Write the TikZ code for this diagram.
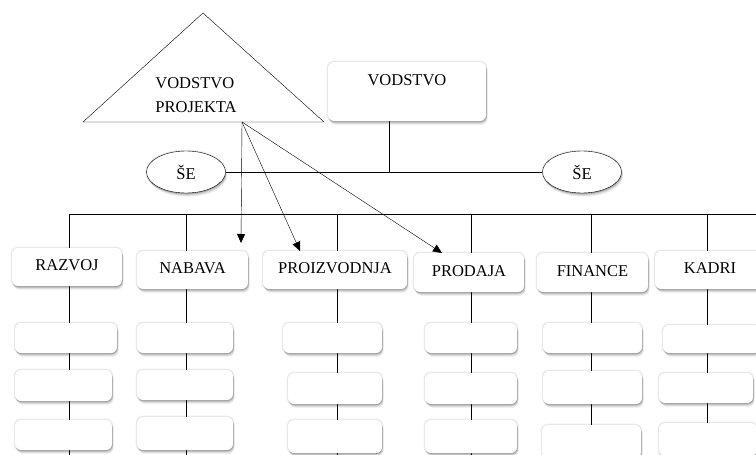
\documentclass[tikz,border=0pt]{standalone}
\usepackage{fontspec}
\setmainfont{Liberation Serif}
\usetikzlibrary{arrows.meta,backgrounds,shapes.geometric}

\begin{document}
\begin{tikzpicture}[x=1pt,y=-1pt,
  line width=1pt,
  lbl/.style={font=\fontsize{16.5}{24}\selectfont, text=black},
  % soft shadow built from a faint halo and a few offset translucent copies of the shape
  soft/.style={
    preaction={draw=black, line width=3pt, draw opacity=0.05, fill=none},
    preaction={draw=black, line width=1.5pt, draw opacity=0.06, fill=none},
    preaction={fill=black, fill opacity=0.10, draw=none, transform canvas={shift={(0.3pt,-0.8pt)}}},
    preaction={fill=black, fill opacity=0.10, draw=none, transform canvas={shift={(0.8pt,-1.8pt)}}},
    preaction={fill=black, fill opacity=0.08, draw=none, transform canvas={shift={(1.2pt,-2.8pt)}}},
    preaction={fill=black, fill opacity=0.06, draw=none, transform canvas={shift={(1.6pt,-3.8pt)}}}},
  card/.style={rectangle, rounded corners=6pt, fill=white, draw=none, inner sep=0pt, soft},
  head/.style={card, lbl, text height=11pt, text depth=4pt},
  oval/.style={ellipse, draw=black, fill=white, inner sep=0pt, lbl,
    minimum width=79pt, minimum height=42pt, soft},
  link/.style={draw=black},
  arr/.style={draw=black, -{Triangle[length=9pt,width=8pt]}}
]
\begin{pgfonlayer}{background}
  \fill[white] (0,0) rectangle (756,455);
\end{pgfonlayer}
\useasboundingbox (0,0) rectangle (756,455);

% project leadership triangle
\draw[black, fill=white, line join=miter] (83,122) -- (324,122) -- (203,13) -- cycle;
\node[lbl, align=left] (tri) at (196,95) {VODSTVO\\PROJEKTA};
\coordinate (tb) at (242,122);

% top management
\node[card, minimum width=158pt, minimum height=59pt] (vod) at (407,91.5) {};
\node[lbl] (vodt) at (407,80) {VODSTVO};

% staff units
\node[oval] (se1) at (186,172) {ŠE};
\node[oval] (se2) at (582,172) {ŠE};

% department heads
\node[head, minimum width=110pt, minimum height=38pt] (razvoj)  at (67,267)    {RAZVOJ};
\node[head, minimum width=111pt, minimum height=38pt] (nabava)  at (192.5,270) {NABAVA};
\node[head, minimum width=144pt, minimum height=38pt] (proizv)  at (335,270)   {PROIZVODNJA};
\node[head, minimum width=110pt, minimum height=39pt] (prodaja) at (469,272.5) {PRODAJA};
\node[head, minimum width=111pt, minimum height=39pt] (finance) at (592.5,272.5){FINANCE};
\node[head, minimum width=110pt, minimum height=38pt] (kadri)   at (710,270)   {KADRI};

% sub-units, column by column
\node[card, minimum width=102pt, minimum height=30pt] (r2) at (66,338) {};
\node[card, minimum width=97pt,  minimum height=31pt] (r3) at (63.5,385.5) {};
\node[card, minimum width=97pt,  minimum height=30pt] (r4) at (63.5,435) {};

\node[card, minimum width=96pt, minimum height=30pt] (n2) at (185,338) {};
\node[card, minimum width=96pt, minimum height=30pt] (n3) at (185,385) {};
\node[card, minimum width=96pt, minimum height=33pt] (n4) at (185,433.5) {};

\node[card, minimum width=99pt, minimum height=30pt] (p2) at (332.5,338) {};
\node[card, minimum width=94pt, minimum height=31pt] (p3) at (335,388.5) {};
\node[card, minimum width=94pt, minimum height=33pt] (p4) at (335,436.5) {};

\node[card, minimum width=92pt, minimum height=30pt] (s2) at (471,338) {};
\node[card, minimum width=92pt, minimum height=31pt] (s3) at (471,388.5) {};
\node[card, minimum width=92pt, minimum height=33pt] (s4) at (471,436.5) {};

\node[card, minimum width=99pt, minimum height=30pt] (f2) at (592.5,338) {};
\node[card, minimum width=99pt, minimum height=33pt] (f3) at (592.5,387.5) {};
\node[card, minimum width=99pt, minimum height=33pt] (f4) at (591.5,441.5) {};

\node[card, minimum width=97pt, minimum height=28pt] (k2) at (711.5,339) {};
\node[card, minimum width=94pt, minimum height=30pt] (k3) at (706,388) {};
\node[card, minimum width=98pt, minimum height=33pt] (k4) at (708,439.5) {};

% bus and column lines behind the cards
\coordinate (busL) at (69,214);
\coordinate (busR) at (756,214);
\coordinate (vj) at (389,172);
\foreach \n/\x in {1/69,2/186,3/337,4/471,5/591,6/707}{
  \coordinate (c\n) at (\x,214);
  \coordinate (b\n) at (\x,455);
}
\begin{pgfonlayer}{background}
  \draw[link] (busL) -- (busR);
  \foreach \n in {1,...,6}{ \draw[link] (c\n) -- (b\n); }
  \draw[link] (vj |- vod.south) -- (vj);
  \draw[link] (se1.east) -- (se2.west);
\end{pgfonlayer}

% arrows from the project leadership
\coordinate (a1) at (241,243);
\coordinate (a2) at (300,251);
\coordinate (a3) at (442,253);
\draw[arr] (tb) -- (a1);
\draw[arr] (tb) -- (a2);
\draw[arr] (tb) -- (a3);
\end{tikzpicture}
\end{document}
